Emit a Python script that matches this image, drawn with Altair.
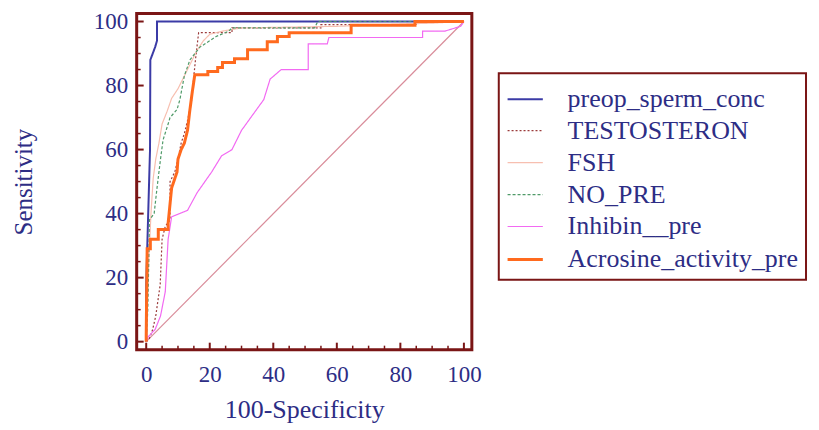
import altair as alt
import pandas as pd

series_names = ["preop_sperm_conc", "TESTOSTERON", "FSH", "NO_PRE", "Inhibin__pre", "Acrosine_activity_pre"]
series_colors = ["#3B3BA6", "#9B3B3B", "#F7BFB0", "#4F9A68", "#F26AF2", "#FF6A1E"]
series_dash = [[1, 0], [2, 2], [1, 0], [3, 2], [1, 0], [1, 0]]
series_width = [2, 1.2, 1.2, 1.2, 1.2, 3]

blue_x = [0, 0, 1.2, 1.3, 2.8, 3.4, 3.4, 100]
blue_y = [0, 18, 60, 88, 92, 94, 100, 100]

testo_x = [0, 1, 2, 3, 4.4, 5, 6, 7.5, 7.5, 9, 10, 11, 12, 13, 14, 14.4, 15, 15.5, 16.2, 16.5, 27, 27, 55, 55, 85, 85, 100]
testo_y = [0, 1, 3.7, 8, 17.8, 32, 36, 38, 50, 53, 57, 62, 65, 69, 74, 76, 83, 88, 94, 96.5, 96.5, 98, 98, 99, 99, 100, 100]

fsh_x = [0, 0.3, 0.8, 1.5, 2.2, 3, 4, 5, 6.6, 8, 10, 12, 14, 16, 18, 20, 24, 30, 60, 90, 100]
fsh_y = [0, 10, 25, 40, 51, 57, 62, 68, 72, 76, 79, 83, 87, 91, 94, 96, 97, 98, 98.5, 99.5, 100]

nopre_x = [0, 0.5, 0.8, 1, 2.5, 3.4, 4.5, 5.3, 6.9, 7.5, 9.7, 10.6, 12, 13.75, 16.9, 22, 26, 27, 53, 54, 100]
nopre_y = [0, 10, 25, 38, 40, 48, 57, 63, 68, 70, 72.5, 75.6, 83, 88, 92, 95.3, 97, 98, 98, 100, 100]

inhib_x = [0, 0.6, 2.8, 4.5, 6, 6.9, 8, 13, 16, 20.6, 23.7, 27, 30, 34, 37, 39, 42.5, 51, 51, 57, 57.5, 87, 87, 94, 99, 100]
inhib_y = [0, 1.5, 3.8, 8, 15.6, 32, 39, 41, 46.5, 53, 58, 60, 66, 71.5, 75.6, 82, 85, 85, 93, 93, 95, 95, 97, 97, 98.5, 100]

acro_x = [0, 0, 0.3, 1.3, 1.3, 3.8, 3.8, 6.9, 6.9, 7.5, 8, 9.7, 10, 11, 12, 13, 13.7, 14.5, 15.3, 19.4, 19.4, 22.5, 22.5, 24, 24, 27.8, 27.8, 31.9, 31.9, 38.1, 38.1, 41.3, 41.3, 45, 45, 64.5, 64.5, 84.6, 84.6, 100]
acro_y = [0, 2, 29, 29, 32, 32, 35, 35, 37, 43, 48, 53, 57, 60, 62, 66, 72, 78, 83.4, 83.4, 84.4, 84.4, 85.6, 85.6, 87.2, 87.2, 88.4, 88.4, 91.2, 91.2, 93.7, 93.7, 95.3, 95.3, 96.5, 96.5, 98.8, 98.8, 100, 100]

diag_x = [0, 100]
diag_y = [0, 100]

x_major = [0, 20, 40, 60, 80, 100]
y_major = [0, 20, 40, 60, 80, 100]
minor = [5, 10, 15, 25, 30, 35, 45, 50, 55, 65, 70, 75, 85, 90, 95]

all_x = [blue_x, testo_x, fsh_x, nopre_x, inhib_x, acro_x]
all_y = [blue_y, testo_y, fsh_y, nopre_y, inhib_y, acro_y]

rows = []
for k, (name, xs_, ys_) in enumerate(zip(series_names, all_x, all_y)):
    for i, (xv, yv) in enumerate(zip(xs_, ys_)):
        rows.append({"series": name, "k": k, "i": i, "fpr": xv, "tpr": yv})
df = pd.DataFrame(rows)

W, H = 336, 337
TXT = "#2D2D85"
FRAME = "#7A1515"
FONT = "Liberation Serif"

xs = alt.Scale(domain=[-3, 102.5], nice=False, zero=False)
ys = alt.Scale(domain=[-2.5, 102.5], nice=False, zero=False)

x_axis = alt.Axis(values=x_major, grid=False, domain=False, tickSize=0, labelPadding=14,
                  labelFont=FONT, labelFontSize=23, labelColor=TXT,
                  titleFont=FONT, titleFontSize=26, titleColor=TXT, titleFontWeight="normal",
                  titleBaseline="alphabetic", titleY=68, titleX=W / 2)
y_axis = alt.Axis(values=y_major, grid=False, domain=False, tickSize=0, labelPadding=9,
                  labelFont=FONT, labelFontSize=23, labelColor=TXT,
                  titleFont=FONT, titleFontSize=25, titleColor=TXT, titleFontWeight="normal",
                  titleBaseline="alphabetic", titleAngle=-90, titleX=-105, titleY=H / 2)

diag = alt.Chart(pd.DataFrame({"fpr": diag_x, "tpr": diag_y})).mark_line(color="#D98C9A", strokeWidth=1.2).encode(
    x=alt.X("fpr:Q", scale=xs, axis=x_axis, title="100-Specificity"),
    y=alt.Y("tpr:Q", scale=ys, axis=y_axis, title="Sensitivity"),
)

legend = alt.Legend(title=None, orient="none", legendX=363, legendY=60,
                    labelFont=FONT, labelFontSize=26, labelColor=TXT, labelLimit=400,
                    symbolType="stroke", symbolSize=1250, symbolStrokeWidth=1.5,
                    rowPadding=0, padding=7, strokeColor=FRAME, fillColor="white",
                    cornerRadius=0, labelOffset=23)

lines = alt.Chart(df).mark_line(interpolate="linear").encode(
    x=alt.X("fpr:Q", scale=xs),
    y=alt.Y("tpr:Q", scale=ys),
    color=alt.Color("series:N", scale=alt.Scale(domain=series_names, range=series_colors), legend=legend, sort=series_names),
    strokeDash=alt.StrokeDash("series:N", scale=alt.Scale(domain=series_names, range=series_dash), sort=series_names, legend=legend),
    strokeWidth=alt.StrokeWidth("series:N", scale=alt.Scale(type="ordinal", domain=series_names, range=series_width), sort=series_names, legend=None),
    order=alt.Order("i:Q"),
    detail="k:Q",
)

xt_major = alt.Chart(pd.DataFrame({"v": x_major})).mark_rule(color=FRAME, strokeWidth=2).encode(
    x=alt.X("v:Q", scale=xs), y=alt.value(H), y2=alt.value(H - 7))
xt_minor = alt.Chart(pd.DataFrame({"v": minor})).mark_rule(color=FRAME, strokeWidth=1.5).encode(
    x=alt.X("v:Q", scale=xs), y=alt.value(H), y2=alt.value(H - 4))
yt_major = alt.Chart(pd.DataFrame({"v": y_major})).mark_rule(color=FRAME, strokeWidth=2).encode(
    y=alt.Y("v:Q", scale=ys), x=alt.value(0), x2=alt.value(7))
yt_minor = alt.Chart(pd.DataFrame({"v": minor})).mark_rule(color=FRAME, strokeWidth=1.5).encode(
    y=alt.Y("v:Q", scale=ys), x=alt.value(0), x2=alt.value(4))

chart = alt.layer(diag, lines, xt_major, xt_minor, yt_major, yt_minor).properties(
    width=W, height=H,
    autosize=alt.AutoSizeParams(type="none"),
    padding={"left": 129, "top": 5, "right": 340, "bottom": 75},
    background="white",
).configure_view(stroke=FRAME, strokeWidth=3).configure_legend(strokeWidth=2)

chart.save("out.html", embed_options={"renderer": "svg", "actions": False})
